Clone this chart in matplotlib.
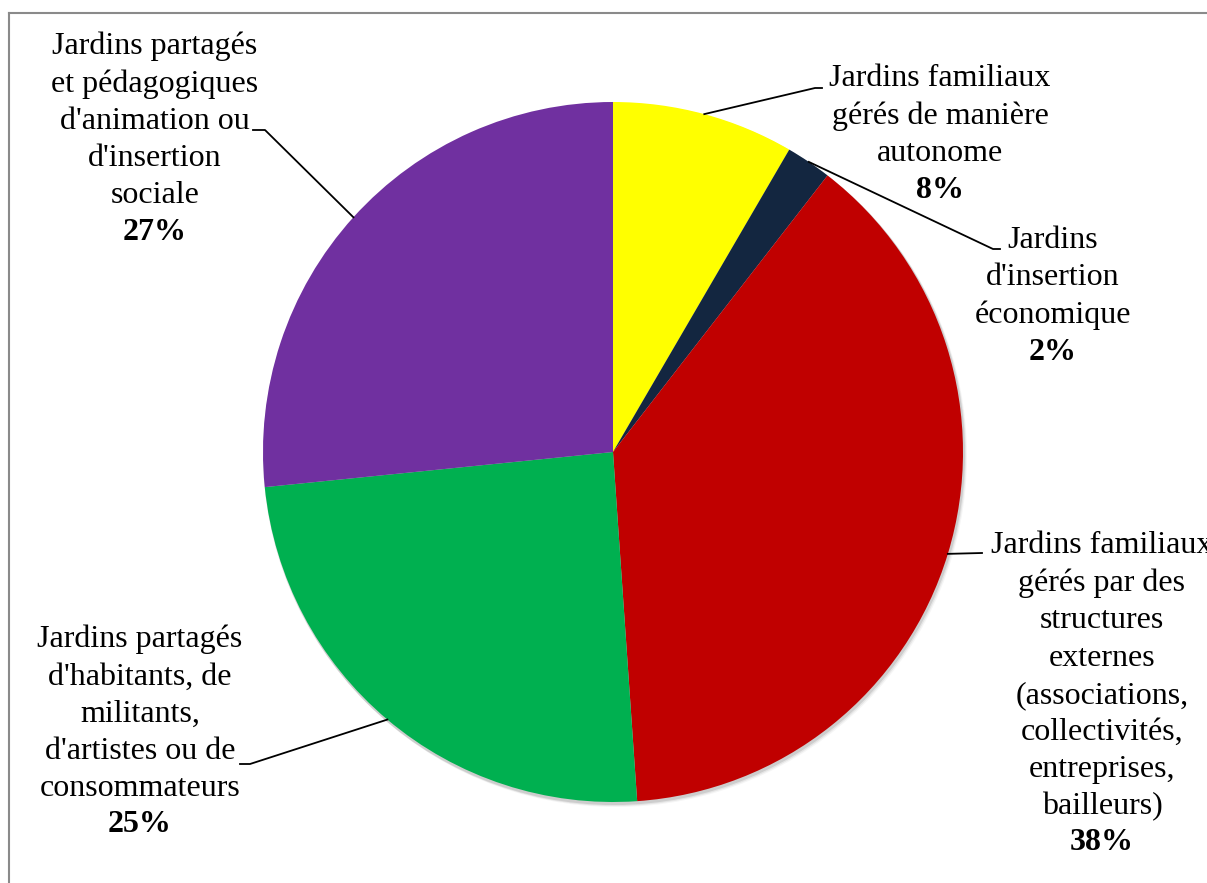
import numpy as np
import matplotlib.pyplot as plt
from matplotlib.patches import Circle

plt.rcParams['font.family'] = ['Liberation Serif', 'DejaVu Serif']

# data
labels = ["Jardins familiaux\ngérés de manière\nautonome",
          "Jardins\nd'insertion\néconomique",
          "Jardins familiaux\ngérés par des\nstructures\nexternes\n(associations,\ncollectivités,\nentreprises,\nbailleurs)",
          "Jardins partagés\nd'habitants, de\nmilitants,\nd'artistes ou de\nconsommateurs",
          "Jardins partagés\net pédagogiques\nd'animation ou\nd'insertion\nsociale"]
values = [8.4, 2.1, 38.4, 24.5, 26.6]
pct_text = ["8%", "2%", "38%", "25%", "27%"]
colors = ["#FFFF00", "#132640", "#C00000", "#00B050", "#7030A0"]

W, H = 1207, 883
fig = plt.figure(figsize=(W / 100, H / 100), dpi=100)
ax = fig.add_axes([0, 0, 1, 1])

cx, cy, R = 613, H - 452, 350

# soft shadow
for i, a in enumerate([0.25, 0.15, 0.08]):
    ax.add_patch(Circle((cx + 1 + i, cy - 2 - i), R + 1, color="#888888", alpha=a, lw=0, zorder=0))

wedges, _ = ax.pie(values, colors=colors, startangle=90, counterclock=False,
                   center=(cx, cy), radius=R, wedgeprops=dict(linewidth=0))
for w in wedges:
    w.set_zorder(2)

# label layout (pixel positions, image y downward)
text_x = [940, 1053, 1102, 140, 155]
first_line_y = [79, 241, 547, 640, 47]
elbow = [(815, 88), (993, 249), (982, 553), (250, 764), (265, 130)]
elbow_end = [(822, 88), (1000, 249), (982, 553), (240, 764), (253, 130)]
step = 37
fs = 23

for k, w in enumerate(wedges):
    ang = np.deg2rad((w.theta1 + w.theta2) / 2)
    px, py = cx + R * np.cos(ang), cy + R * np.sin(ang)
    ex, ey = elbow[k]
    fx, fy = elbow_end[k]
    ax.plot([px, ex, fx], [py, H - ey, H - fy], color="black", lw=1.3, zorder=3)

    n = labels[k].count("\n") + 1
    mid = first_line_y[k] + step * (n - 1) / 2
    ax.text(text_x[k], H - mid, labels[k], ha="center", va="center",
            fontsize=fs, linespacing=1.37, zorder=4)
    ax.text(text_x[k], H - (first_line_y[k] + step * n), pct_text[k], ha="center",
            va="center", fontsize=fs, fontweight="bold", zorder=4)

ax.set_xlim(0, W)
ax.set_ylim(0, H)
ax.set_aspect("equal")
ax.axis("off")

# outer chart frame (only top and left visible)
fig.add_artist(plt.Line2D([9 / W, 1], [1 - 13 / H, 1 - 13 / H], color="#8a8a8a", lw=1.5))
fig.add_artist(plt.Line2D([9 / W, 9 / W], [0, 1 - 13 / H], color="#8a8a8a", lw=1.5))

fig.savefig("out.png", dpi=100)
